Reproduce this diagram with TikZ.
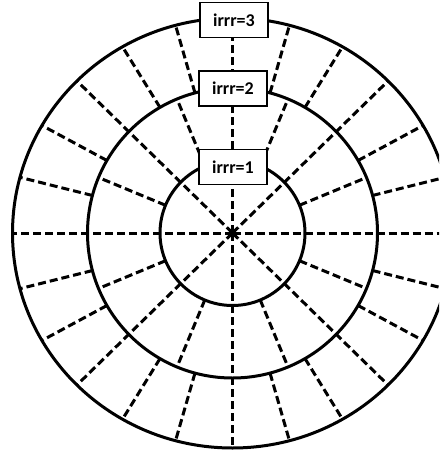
\documentclass[tikz,border=0pt]{standalone}
\usepackage{fontspec}
\setmainfont{Carlito}
\begin{document}
\begin{tikzpicture}[x=1pt,y=-1pt,
  ring/.style={line width=3pt},
  spoke/.style={line width=3pt, dash pattern=on 8pt off 4pt},
  lab/.style={draw, fill=white, line width=1.4pt, minimum width=68pt,
    minimum height=35pt, inner sep=0pt,
    font=\bfseries\fontsize{18}{20}\selectfont}]
\useasboundingbox (0,0) rectangle (439,452);
\clip (0,0) rectangle (439,452);
\coordinate (C) at (232.5,233);
% spokes through all rings
\foreach \a in {0,45,...,315}
  \draw[spoke, shift={(C)}] (0,0) -- (\a:220 and 215);
% middle ring spokes
\foreach \a in {22.5,67.5,...,337.5}
  \draw[spoke, shift={(C)}] (\a:72.5) -- (\a:145);
% outer ring spokes
\foreach \a in {15,30,60,75,105,120,150,165,195,210,240,255,285,300,330,345}
  \draw[spoke, shift={(C)}] (\a:145) -- (\a:220 and 215);
% rings
\draw[ring] (C) circle[radius=72.5];
\draw[ring] (C) circle[radius=145];
\draw[ring] (C) ellipse[x radius=220, y radius=215];
% labels
\node[lab] (l3) at (234,20) {irrr=3};
\node[lab] (l2) at (233,88.5) {irrr=2};
\node[lab] (l1) at (233,167) {irrr=1};
\end{tikzpicture}
\end{document}
